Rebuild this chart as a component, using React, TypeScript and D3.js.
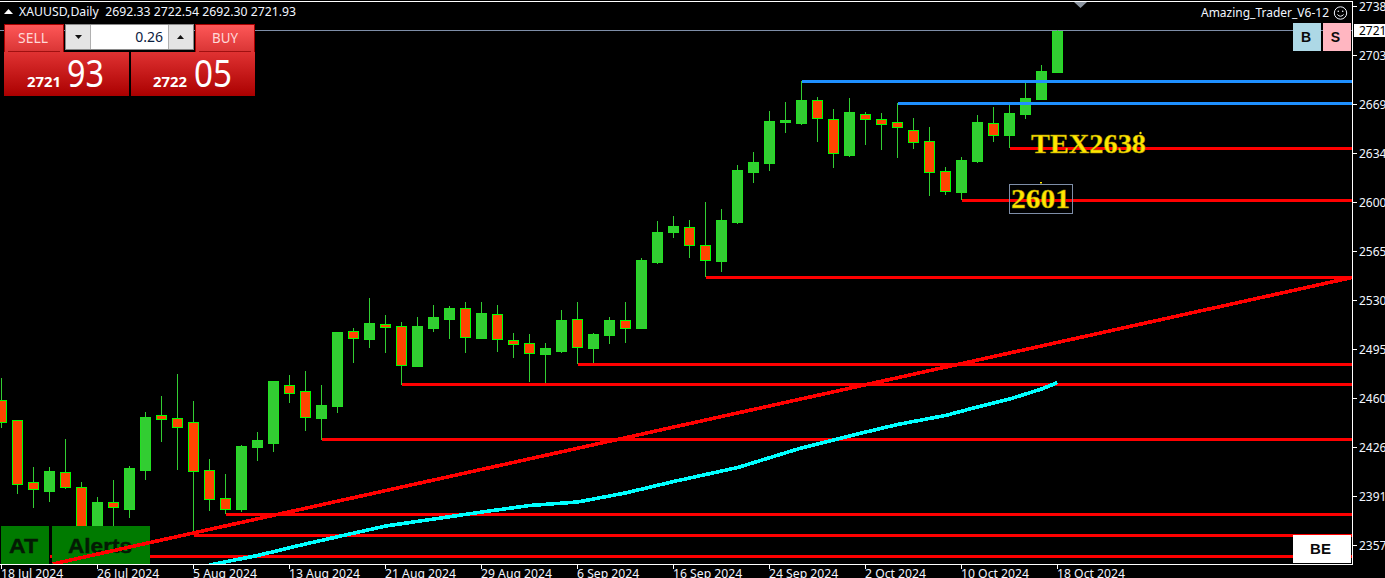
import React, { useEffect } from "react";
import * as d3 from "d3";

const WIDTH = 1385;
const HEIGHT = 578;

// Daily bars, one value per bar, left to right
const opens = [2460.3,2446.1,2402.2,2395.8,2409.3,2398.6,2369.6,2388.0,2383.1,2410.7,2449.6,2447.5,2444.7,2410.7,2390.8,2383.1,2427.0,2429.8,2470.9,2466.6,2447.5,2456.0,2509.1,2503.5,2514.1,2512.7,2484.3,2511.2,2517.6,2525.4,2504.2,2521.2,2502.8,2500.6,2492.8,2494.9,2517.6,2497.1,2506.3,2517.0,2511.2,2558.0,2579.2,2582.8,2570.0,2558.7,2586.3,2621.7,2628.1,2657.1,2656.4,2672.7,2659.2,2633.8,2662.8,2659.2,2657.1,2651.5,2643.7,2622.4,2607.5,2629.5,2656.4,2647.9,2662.8,2673.4,2692.33];
const highs = [2475.8,2446.1,2412.8,2412.8,2432.6,2402.2,2391.5,2403.6,2413.5,2451.8,2463.1,2478.7,2459.5,2418.5,2407.9,2428.4,2437.6,2473.7,2478.0,2480.8,2470.9,2508.4,2511.2,2532.5,2520.4,2515.5,2519.0,2527.5,2526.8,2529.7,2529.7,2527.5,2507.7,2507.0,2500.6,2524.0,2529.7,2507.7,2519.0,2529.7,2560.8,2587.0,2590.6,2587.7,2600.5,2595.6,2626.7,2635.9,2664.9,2671.3,2686.2,2674.8,2666.3,2674.1,2664.2,2663.5,2670.6,2660.0,2653.6,2625.3,2632.3,2662.1,2667.7,2669.9,2686.2,2697.5,2722.54];
const lows = [2440.4,2393.7,2383.8,2388.0,2397.2,2362.5,2364.0,2368.2,2376.7,2403.6,2430.5,2410.7,2366.1,2381.6,2379.5,2380.9,2417.1,2423.4,2458.1,2438.3,2431.9,2451.0,2486.4,2497.1,2493.5,2470.9,2484.3,2508.4,2503.5,2493.5,2503.5,2494.2,2490.0,2473.0,2471.6,2493.5,2485.7,2486.4,2499.9,2500.6,2511.2,2556.6,2575.0,2560.8,2547.4,2550.9,2584.9,2613.9,2622.4,2649.3,2655.0,2643.0,2624.5,2632.3,2640.8,2637.3,2631.6,2638.0,2604.7,2605.4,2601.9,2628.1,2643.0,2638.7,2659.2,2673.4,2692.30];
const closes = [2444.7,2400.8,2397.2,2409.9,2398.6,2368.2,2388.0,2384.5,2412.1,2448.2,2446.8,2441.1,2409.9,2390.1,2383.1,2427.7,2431.9,2473.7,2465.2,2448.2,2456.7,2508.4,2504.2,2514.8,2512.0,2485.0,2512.7,2519.0,2525.4,2504.9,2521.9,2503.5,2499.9,2493.5,2497.1,2517.0,2497.8,2507.0,2517.0,2511.2,2559.4,2579.2,2583.5,2570.0,2559.4,2587.7,2623.1,2628.8,2657.8,2658.5,2672.7,2659.9,2635.2,2664.2,2659.2,2655.7,2653.6,2643.0,2621.7,2608.2,2630.2,2657.1,2647.9,2663.5,2674.1,2693.2,2721.93];

// Moving average, read at these bars
const maBars = [13,16,19,24,27,30,33,36,39,42,46,50,53,56,59,61,63,65,66];
const maValues = [2343.4,2350.1,2358.3,2371.0,2375.9,2380.9,2385.5,2388.0,2394.4,2402.5,2412.4,2426.3,2434.8,2442.9,2449.3,2455.3,2460.9,2468.0,2472.6];

// Horizontal levels: price and the bar they start from
const blueLevels = [2685.8,2670.2];
const blueStarts = [50,56];
const redLevels = [2638.4,2601.5,2547.0,2485.4,2471.2,2432.3,2379.1,2364.3,2349.4];
const redStarts = [63,60,44,36,25,20,14,12,3];

// Rising trend line
const trendBars = [3.2,84.4];
const trendPrices = [2344.1,2547.0];

const lastPrice = 2721.93;

const yTickPrices = [2739.3,2704.6,2669.9,2635.2,2600.5,2565.8,2531.1,2496.4,2461.7,2427.0,2392.3,2357.6];
const yTickLabels = ["2738","2703","2669","2634","2600","2565","2530","2495","2460","2426","2391","2357"];
const xTickBars = [0,6,12,18,24,30,36,42,48,54,60,66];
const xTickLabels = ["18 Jul 2024","26 Jul 2024","5 Aug 2024","13 Aug 2024","21 Aug 2024","29 Aug 2024","6 Sep 2024","16 Sep 2024","24 Sep 2024","2 Oct 2024","10 Oct 2024","18 Oct 2024"];

const x = d3.scaleLinear().domain([0, 66]).range([1.5, 1057.5]);
const y = d3.scaleLinear().domain([lastPrice, lastPrice - 100]).range([30.5, 30.5 + 141.2]);
const snap = (v: number) => Math.floor(v) + 0.5;

const UI = "'Noto Sans', sans-serif";
const BULL = "#32cd32";
const BEAR = "#ff4500";
const EDGE = "#00ff00";

export default function App() {
  useEffect(() => {
    document.body.style.margin = "0";
    document.body.style.overflow = "hidden";
    document.body.style.background = "#000";
  }, []);

  const maPath = d3
    .line<number>()
    .x((d) => x(d))
    .y((_, i) => y(maValues[i]))
    .curve(d3.curveLinear)(maBars);

  const trendPath = d3
    .line<number>()
    .x((d) => x(d))
    .y((_, i) => y(trendPrices[i]))(trendBars);

  return (
    <svg
      width={WIDTH}
      height={HEIGHT}
      viewBox={`0 0 ${WIDTH} ${HEIGHT}`}
      style={{ position: "absolute", left: 0, top: 0, background: "#000", display: "block" }}
    >
      <defs>
        <clipPath id="plot">
          <rect x={0} y={2} width={1352} height={562} />
        </clipPath>
        <linearGradient id="btnTop" x1="0" y1="0" x2="0" y2="1">
          <stop offset="0" stopColor="#ff5858" />
          <stop offset="1" stopColor="#d83434" />
        </linearGradient>
        <linearGradient id="btnPrice" x1="0" y1="0" x2="0" y2="1">
          <stop offset="0" stopColor="#e03232" />
          <stop offset="1" stopColor="#aa0000" />
        </linearGradient>
      </defs>

      <g clipPath="url(#plot)">
        <line x1={0} x2={1352} y1={snap(y(lastPrice))} y2={snap(y(lastPrice))} stroke="#7e8ea8" strokeWidth={1} />

        {opens.map((o, i) => {
          const c = closes[i];
          const bull = c >= o;
          const top = Math.round(y(Math.max(o, c)));
          const bottom = Math.round(y(Math.min(o, c)));
          const cx = x(i);
          return (
            <g key={i} shapeRendering="crispEdges">
              <line x1={cx} x2={cx} y1={Math.round(y(highs[i]))} y2={Math.round(y(lows[i]))} stroke={BULL} strokeWidth={1} />
              <rect
                x={cx - 5}
                y={top + 0.5}
                width={10}
                height={Math.max(bottom - top, 1)}
                fill={bull ? BULL : BEAR}
                stroke={bull ? "#22e022" : EDGE}
                strokeWidth={1}
              />
            </g>
          );
        })}

        <g shapeRendering="crispEdges">
          {blueLevels.map((p, i) => (
            <line key={i} x1={x(blueStarts[i])} x2={1352} y1={snap(y(p))} y2={snap(y(p))} stroke="#1e90ff" strokeWidth={3} />
          ))}
          {redLevels.map((p, i) => (
            <line key={i} x1={x(redStarts[i])} x2={1352} y1={snap(y(p))} y2={snap(y(p))} stroke="#ff0000" strokeWidth={3} />
          ))}
        </g>

        <path d={maPath ?? ""} fill="none" stroke="#00ffff" strokeWidth={3.6} shapeRendering="crispEdges" />
      </g>

      {/* AT / Alerts buttons */}
      <rect x={1} y={526} width={48} height={38} fill="#007a00" />
      <rect x={52} y={526} width={98} height={38} fill="#007a00" />
      <text x={9} y={553} fontFamily="'Liberation Sans', sans-serif" fontWeight="bold" fontSize={20} fill="#041a04" stroke="#041a04" strokeWidth={0.4} textLength={29} lengthAdjust="spacingAndGlyphs">AT</text>
      <text x={68} y={553} fontFamily="'Liberation Sans', sans-serif" fontWeight="bold" fontSize={20} fill="#041a04" stroke="#041a04" strokeWidth={0.4} textLength={64} lengthAdjust="spacingAndGlyphs">Alerts</text>

      <g clipPath="url(#plot)">
        <path d={trendPath ?? ""} fill="none" stroke="#ff0000" strokeWidth={3.6} shapeRendering="crispEdges" />
      </g>

      {/* Annotations */}
      <text x={1031} y={153} fontFamily="'Liberation Serif', serif" fontWeight="bold" fontSize={27} fill="#ffe600" stroke="#a89000" strokeWidth={0.4} textLength={115} lengthAdjust="spacingAndGlyphs">TEX2638</text>
      <circle cx={1140.5} cy={133} r={1.2} fill="#ffe600" />
      <rect x={1009.5} y={184.5} width={63} height={29} fill="none" stroke="#7e8ea8" strokeWidth={1} />
      <text x={1011} y={208} fontFamily="'Liberation Serif', serif" fontWeight="bold" fontSize={27} fill="#ffe600" stroke="#a89000" strokeWidth={0.4} textLength={59} lengthAdjust="spacingAndGlyphs">2601</text>
      <rect x={1040} y={182} width={2} height={1.5} fill="#ffe600" />

      {/* Frame */}
      <g shapeRendering="crispEdges" stroke="#ffffff" strokeWidth={1}>
        <line x1={0} x2={1353} y1={1.5} y2={1.5} />
        <line x1={0} x2={1353} y1={564.5} y2={564.5} />
        <line x1={1352.5} x2={1352.5} y1={1} y2={565} />
      </g>

      <path d="M1074,2 L1087,2 L1080.5,8 Z" fill="#8c95a0" />

      {/* Price axis */}
      {yTickPrices.map((p, i) => (
        <g key={i}>
          <line x1={1353} x2={1357} y1={Math.round(y(p)) + 0.5} y2={Math.round(y(p)) + 0.5} stroke="#fff" strokeWidth={1} shapeRendering="crispEdges" />
          <text x={1359} y={y(p) + 5} fontFamily={UI} fontSize={12} fill="#f2f6ff">{yTickLabels[i]}</text>
        </g>
      ))}
      <rect x={1354} y={24} width={31} height={13} fill="#ffffff" />
      <text x={1359} y={35} fontFamily={UI} fontSize={12} fill="#000000">{String(Math.floor(lastPrice))}</text>

      {/* Time axis */}
      {xTickBars.map((b, i) => (
        <g key={i}>
          <line x1={x(b)} x2={x(b)} y1={565} y2={569} stroke="#fff" strokeWidth={1} shapeRendering="crispEdges" />
          <text x={x(b) - 0.5} y={578} fontFamily={UI} fontSize={12.2} fill="#f2f6ff">{xTickLabels[i]}</text>
        </g>
      ))}

      {/* Header */}
      <path d="M4,14 L13,14 L8.5,9 Z" fill="#ffffff" />
      <text x={19} y={16} fontFamily={UI} fontSize={12} fill="#f2f6ff" xmlSpace="preserve" textLength={277} lengthAdjust="spacingAndGlyphs">XAUUSD,Daily  2692.33 2722.54 2692.30 2721.93</text>

      <text x={1201} y={17} fontFamily={UI} fontSize={12} fill="#f2f6ff" textLength={128} lengthAdjust="spacingAndGlyphs">Amazing_Trader_V6-12</text>
      <circle cx={1340.5} cy={13} r={6.2} fill="none" stroke="#f2f6ff" strokeWidth={1} />
      <circle cx={1338.3} cy={11.2} r={0.8} fill="#f2f6ff" />
      <circle cx={1342.7} cy={11.2} r={0.8} fill="#f2f6ff" />
      <path d="M1337.4,14.5 Q1340.5,18 1343.6,14.5" fill="none" stroke="#f2f6ff" strokeWidth={1} />

      {/* B / S buttons */}
      <rect x={1293} y={23} width={28} height={28} fill="#add8e6" />
      <rect x={1323} y={23} width={28} height={28} fill="#ffb6c1" />
      <text x={1306} y={42} textAnchor="middle" fontFamily="'Liberation Sans', sans-serif" fontWeight="bold" fontSize={14} fill="#0a0a0a">B</text>
      <text x={1335.5} y={42} textAnchor="middle" fontFamily="'Liberation Sans', sans-serif" fontWeight="bold" fontSize={14} fill="#0a0a0a">S</text>

      {/* BE button */}
      <rect x={1293} y={535} width={58} height={28} fill="#ffffff" />
      <text x={1320.5} y={554} textAnchor="middle" fontFamily="'Liberation Sans', sans-serif" fontWeight="bold" fontSize={15} fill="#0a0a0a">BE</text>

      {/* One-click trading panel */}
      <rect x={4.5} y={24.5} width={59} height={28} fill="url(#btnTop)" stroke="#a80000" />
      <line x1={8} x2={60} y1={51.5} y2={51.5} stroke="#a01010" />
      <text x={33} y={43} textAnchor="middle" fontFamily={UI} fontSize={15} fill="#ffd8d8" textLength={30} lengthAdjust="spacingAndGlyphs">SELL</text>
      <rect x={195.5} y={24.5} width={59} height={28} fill="url(#btnTop)" stroke="#a80000" />
      <line x1={199} x2={251} y1={51.5} y2={51.5} stroke="#a01010" />
      <text x={225} y={43} textAnchor="middle" fontFamily={UI} fontSize={15} fill="#ffd8d8" textLength={26} lengthAdjust="spacingAndGlyphs">BUY</text>

      <rect x={65.5} y={24.5} width={128} height={25} fill="#e4e4e4" stroke="#8a8a8a" />
      <rect x={91} y={25} width={77} height={24} fill="#ffffff" />
      <line x1={90.5} x2={90.5} y1={25} y2={49} stroke="#b0b0b0" />
      <line x1={168.5} x2={168.5} y1={25} y2={49} stroke="#b0b0b0" />
      <path d="M75,35 L82,35 L78.5,39 Z" fill="#111" />
      <path d="M177,39 L184,39 L180.5,35 Z" fill="#111" />
      <text x={163} y={42} textAnchor="end" fontFamily={UI} fontSize={14} fill="#0a2040">0.26</text>

      <rect x={4} y={52} width={125} height={44} fill="url(#btnPrice)" />
      <rect x={131} y={52} width={124} height={44} fill="url(#btnPrice)" />
      <text x={27} y={87} fontFamily={UI} fontWeight="bold" fontSize={15} fill="#ffffff" textLength={34} lengthAdjust="spacingAndGlyphs">2721</text>
      <text x={67} y={87} fontFamily={UI} fontSize={38} fill="#ffffff" textLength={37} lengthAdjust="spacingAndGlyphs">93</text>
      <text x={153} y={87} fontFamily={UI} fontWeight="bold" fontSize={15} fill="#ffffff" textLength={34} lengthAdjust="spacingAndGlyphs">2722</text>
      <text x={194} y={87} fontFamily={UI} fontSize={38} fill="#ffffff" textLength={38} lengthAdjust="spacingAndGlyphs">05</text>
    </svg>
  );
}
